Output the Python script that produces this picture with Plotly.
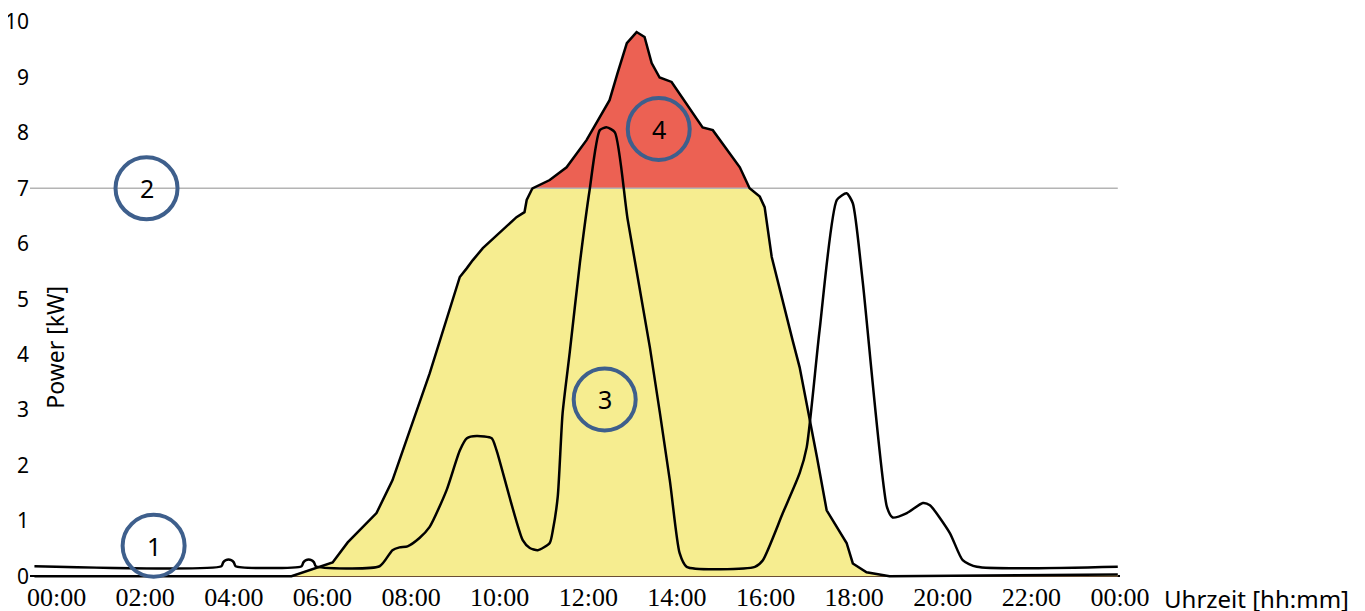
import plotly.graph_objects as go
import numpy as np

# Farben
COLOR_PV = '#f6ed90'
COLOR_CUT = '#ec6153'
COLOR_RING = '#3e5f8c'
COLOR_LIMIT = '#b4b4b4'

LIMIT = 7.0  # Einspeisegrenze [kW]

# PV-Erzeugung (Stunden, kW)
pv_h = [-0.5, 5.30, 6.23, 6.57, 7.22, 7.58, 8.42, 9.10, 9.26, 9.39, 9.62, 10.38, 10.56, 10.61,
        10.72, 10.74, 11.13, 11.51, 11.96, 12.48, 12.66, 12.87, 13.09, 13.27, 13.43, 13.61,
        13.88, 14.58, 14.81, 15.42, 15.64, 15.87, 15.98, 16.14, 16.61, 16.77, 17.16, 17.38,
        17.83, 17.97, 18.28, 18.80, 23.95]
pv_kw = [0.0, 0.0, 0.25, 0.61, 1.14, 1.73, 3.66, 5.40, 5.56, 5.70, 5.92, 6.48, 6.57, 6.79,
         6.97, 7.0, 7.15, 7.38, 7.87, 8.59, 9.08, 9.62, 9.82, 9.73, 9.26, 9.0,
         8.92, 8.10, 8.05, 7.38, 7.0, 6.85, 6.66, 5.76, 4.26, 3.77, 2.15, 1.19,
         0.60, 0.23, 0.07, 0.0, 0.03]

# Verbrauch (Stunden, kW)
load_h = [-0.5, 3.72, 3.76, 3.82, 3.88, 3.94, 4.00, 4.04, 5.53, 5.57, 5.63, 5.69, 5.75, 5.81, 5.85,
          7.29, 7.58, 7.74, 7.92, 8.19, 8.42, 8.80, 9.10, 9.26, 9.48, 9.82, 9.93, 10.52, 10.68,
          10.86, 11.13, 11.20, 11.31, 11.42, 11.58, 11.81, 12.03, 12.26, 12.42, 12.60, 12.89,
          13.39, 13.84, 14.06, 14.22, 15.76, 15.94, 16.39, 16.77, 16.93, 17.22, 17.61, 17.83,
          17.97, 18.19, 18.74, 18.87, 19.19, 19.55, 19.71, 20.16, 20.45, 20.77, 23.95]
load_kw = [0.18, 0.18, 0.25, 0.29, 0.30, 0.29, 0.25, 0.18, 0.18, 0.25, 0.29, 0.30, 0.29, 0.25, 0.18,
           0.18, 0.47, 0.52, 0.54, 0.69, 0.89, 1.55, 2.27, 2.49, 2.53, 2.49, 2.27, 0.65, 0.51,
           0.47, 0.60, 0.83, 1.43, 2.94, 4.03, 5.65, 6.97, 8.05, 8.10, 8.01, 6.43,
           4.13, 1.73, 0.42, 0.17, 0.17, 0.29, 1.14, 1.86, 2.33, 4.44, 6.79, 6.91,
           6.73, 5.34, 1.25, 1.06, 1.14, 1.32, 1.28, 0.78, 0.29, 0.17, 0.17]

tick_vals = list(range(0, 25, 2))
tick_text = ['00:00', '02:00', '04:00', '06:00', '08:00', '10:00', '12:00',
             '14:00', '16:00', '18:00', '20:00', '22:00', '00:00']

# Markierungen (Nummer, Stunde, kW)
marks = [('1', 2.19, 0.55), ('2', 2.03, 7.0), ('3', 12.37, 3.19), ('4', 13.59, 8.07)]

fig = go.Figure()

# abgeregelter Anteil (rot) = gesamte Kurve, darüber gelb bis zur Grenze
fig.add_trace(go.Scatter(x=pv_h, y=pv_kw, mode='lines', fill='tozeroy', fillcolor=COLOR_CUT,
                         line=dict(width=0), hoverinfo='skip'))
fig.add_trace(go.Scatter(x=pv_h, y=np.minimum(pv_kw, LIMIT), mode='lines', fill='tozeroy',
                         fillcolor=COLOR_PV, line=dict(width=0), hoverinfo='skip'))
fig.add_trace(go.Scatter(x=[-0.6, 23.95], y=[LIMIT, LIMIT], mode='lines',
                         line=dict(color=COLOR_LIMIT, width=1.5), hoverinfo='skip'))
fig.add_trace(go.Scatter(x=pv_h, y=pv_kw, mode='lines', line=dict(color='black', width=2.5)))
fig.add_trace(go.Scatter(x=load_h, y=load_kw, mode='lines',
                         line=dict(color='black', width=2.5, shape='spline', smoothing=0.6)))

for num, h, kw in marks:
    fig.add_shape(type='circle', xref='x', yref='y', xsizemode='pixel', ysizemode='pixel',
                  xanchor=h, yanchor=kw, x0=-31, x1=31, y0=-31, y1=31,
                  line=dict(color=COLOR_RING, width=4), layer='above')
    fig.add_annotation(x=h, y=kw, text=num, showarrow=False,
                       font=dict(family='Noto Sans', size=25, color='black'))

fig.add_annotation(x=-0.03, y=4.13, text='Power [kW]', textangle=-90, showarrow=False,
                   font=dict(family='Noto Sans', size=23, color='black'))
fig.add_annotation(xref='paper', yref='paper', x=1.125, y=-0.035, xanchor='center',
                   yanchor='middle', text='Uhrzeit [hh:mm]', showarrow=False,
                   font=dict(family='Noto Sans', size=24, color='black'))

# Seite hat 8px Rand -> Figur etwas kleiner
fig.update_layout(
    width=1357, height=603,
    margin=dict(l=22, r=245, t=3, b=32),
    plot_bgcolor='white', paper_bgcolor='white',
    showlegend=False,
    xaxis=dict(range=[-0.6, 24.0], tickvals=tick_vals, ticktext=tick_text, showgrid=False,
               zeroline=False, showline=False, ticks='', ticklen=0, automargin=False,
               ticklabeloverflow='allow',
               tickfont=dict(family='Liberation Serif', size=26, color='black')),
    yaxis=dict(range=[-0.05, 10.2], tickvals=list(range(0, 11)), showgrid=False,
               zeroline=True, zerolinecolor='black', zerolinewidth=1.5, showline=False, ticks='',
               ticklen=0, automargin=False, ticklabeloverflow='allow',
               tickfont=dict(family='Noto Sans', size=21, color='black')),
)

fig.write_html("out.html")
